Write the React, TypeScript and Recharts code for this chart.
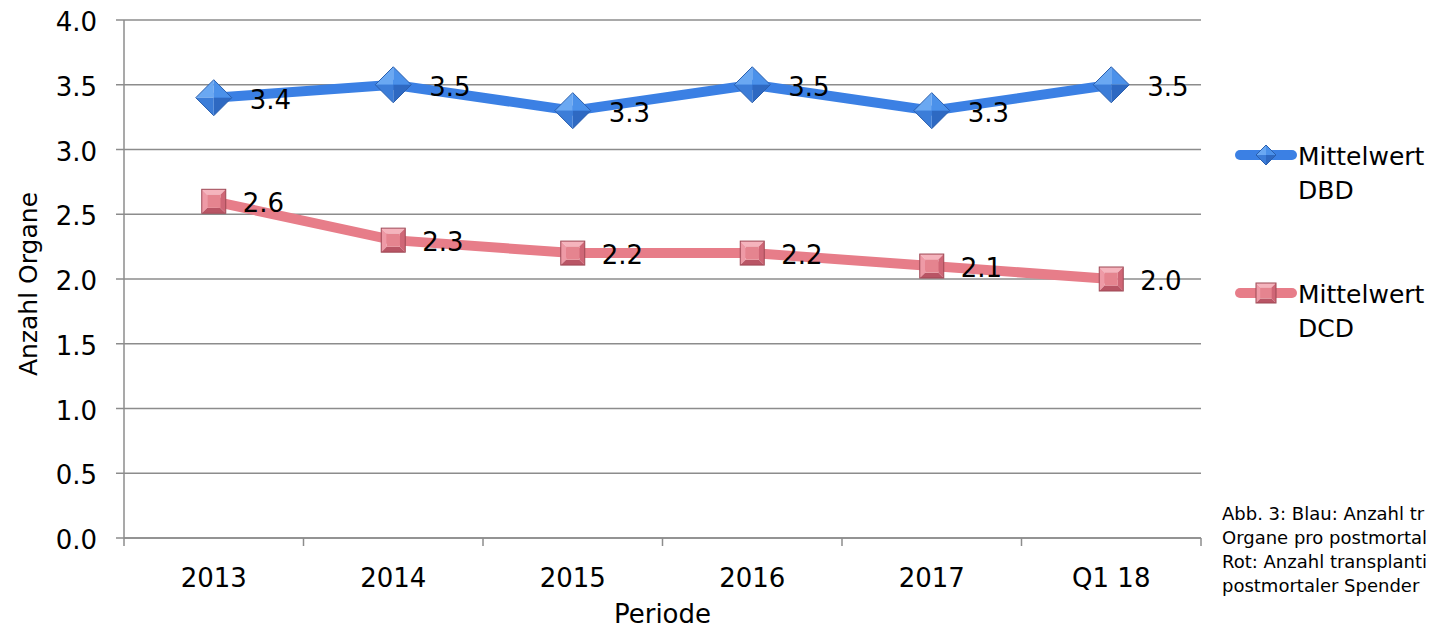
import React from "react";
import { LineChart, Line, XAxis, YAxis, CartesianGrid, LabelList } from "recharts";

const periods = ["2013", "2014", "2015", "2016", "2017", "Q1 18"];
const dbdMean = [3.4, 3.5, 3.3, 3.5, 3.3, 3.5];
const dcdMean = [2.6, 2.3, 2.2, 2.2, 2.1, 2.0];
const yTicks = [0, 0.5, 1, 1.5, 2, 2.5, 3, 3.5, 4];
// the caption is cut by the right edge of the picture, only the visible part is kept
const captionLines = [
  "Abb. 3: Blau: Anzahl tr",
  "Organe pro postmortal",
  "Rot: Anzahl transplanti",
  "postmortaler Spender",
];

const data = periods.map((p, i) => ({ period: p, dbd: dbdMean[i], dcd: dcdMean[i] }));

const FONT = "'DejaVu Sans', Verdana, sans-serif";
const W = 1433;
const H = 630;
const M = { top: 20, right: 232, left: 0, bottom: 0 };
const Y_W = 124;
const X_H = 92;
const BLUE = "#3b80e4";
const PINK = "#e77d89";
const GRID = "#8c8c8c";
const HALF_BAND = (W - M.right - M.left - Y_W) / periods.length / 2;

function Diamond({ cx, cy, r }: { cx: number; cy: number; r: number }) {
  const t = `${cx},${cy - r}`;
  const rt = `${cx + r},${cy}`;
  const b = `${cx},${cy + r}`;
  const l = `${cx - r},${cy}`;
  const c = `${cx},${cy}`;
  return (
    <g>
      <polygon points={`${l} ${t} ${c}`} fill="#6aa8f2" />
      <polygon points={`${t} ${rt} ${c}`} fill="#4b91ea" />
      <polygon points={`${rt} ${b} ${c}`} fill="#2e69c2" />
      <polygon points={`${b} ${l} ${c}`} fill="#3c7dd8" />
      <polygon points={`${t} ${rt} ${b} ${l}`} fill="none" stroke="#2a5fae" strokeWidth={1} />
    </g>
  );
}

function Square({ cx, cy, h }: { cx: number; cy: number; h: number }) {
  const i = h * 0.55;
  const o = (x: number, y: number) => `${cx + x},${cy + y}`;
  return (
    <g>
      <polygon points={`${o(-h, -h)} ${o(h, -h)} ${o(i, -i)} ${o(-i, -i)}`} fill="#f5b4bd" />
      <polygon points={`${o(-h, -h)} ${o(-i, -i)} ${o(-i, i)} ${o(-h, h)}`} fill="#ee9aa6" />
      <polygon points={`${o(h, -h)} ${o(h, h)} ${o(i, i)} ${o(i, -i)}`} fill="#cf6676" />
      <polygon points={`${o(-h, h)} ${o(-i, i)} ${o(i, i)} ${o(h, h)}`} fill="#b95565" />
      <polygon points={`${o(-i, -i)} ${o(i, -i)} ${o(i, i)} ${o(-i, i)}`} fill="#e5848f" />
      <rect x={cx - h} y={cy - h} width={2 * h} height={2 * h} fill="none" stroke="#9e4855" strokeWidth={1} />
    </g>
  );
}

const DiamondDot = (props: any) => <Diamond key={`d-${props.index}`} cx={props.cx} cy={props.cy} r={18} />;
const SquareDot = (props: any) => <Square key={`s-${props.index}`} cx={props.cx} cy={props.cy} h={12} />;

const valueLabel = (dx: number) => (props: any) => {
  const { x, y, value, index } = props;
  return (
    <text key={`l-${index}`} x={x + dx} y={y + 11} fontSize={26} fontFamily={FONT} fill="#000">
      {Number(value).toFixed(1)}
    </text>
  );
};

const XTick = (props: any) => {
  const { x, y, payload, index } = props;
  return (
    <g>
      <line x1={x - HALF_BAND} y1={y} x2={x - HALF_BAND} y2={y + 8} stroke={GRID} strokeWidth={1.5} />
      {index === periods.length - 1 && (
        <line x1={x + HALF_BAND} y1={y} x2={x + HALF_BAND} y2={y + 8} stroke={GRID} strokeWidth={1.5} />
      )}
      <text x={x} y={y + 49} textAnchor="middle" fontSize={26} fontFamily={FONT} fill="#000">
        {payload.value}
      </text>
    </g>
  );
};

const legendItems = [
  { name: "Mittelwert", sub: "DBD", color: BLUE, kind: "diamond" },
  { name: "Mittelwert", sub: "DCD", color: PINK, kind: "square" },
];

const LegendBox = () => (
  <div
    style={{
      position: "absolute",
      left: 1234,
      top: 140,
      fontFamily: FONT,
      fontSize: 25,
      lineHeight: "34px",
      color: "#000",
    }}
  >
    {legendItems.map((it, i) => (
      <div key={it.sub} style={{ display: "flex", alignItems: "flex-start", marginTop: i === 0 ? 0 : 70 }}>
        <svg width={64} height={24} style={{ marginTop: 3 }}>
          <line x1={6} y1={12} x2={58} y2={12} stroke={it.color} strokeWidth={10} strokeLinecap="round" />
          {it.kind === "diamond" ? <Diamond cx={32} cy={12} r={10} /> : <Square cx={32} cy={12} h={10} />}
        </svg>
        <div>
          <div>{it.name}</div>
          <div>{it.sub}</div>
        </div>
      </div>
    ))}
  </div>
);

export default function App() {
  return (
    <div style={{ position: "fixed", left: 0, top: 0, width: W, height: H, overflow: "hidden", background: "#fff" }}>
      <LineChart width={W} height={H} data={data} margin={M}>
        <CartesianGrid vertical={false} stroke={GRID} strokeWidth={1.5} />
        <XAxis
          dataKey="period"
          scale="band"
          height={X_H}
          stroke={GRID}
          strokeWidth={1.5}
          tickLine={false}
          tickSize={0}
          tickMargin={0}
          tick={<XTick />}
          interval={0}
          label={{
            content: (p: any) => {
              const vb = p.viewBox;
              return (
                <text x={vb.x + vb.width / 2} y={vb.y + 85} textAnchor="middle" fontSize={26} fontFamily={FONT} fill="#000">
                  Periode
                </text>
              );
            },
          }}
        />
        <YAxis
          domain={[0, 4]}
          ticks={yTicks}
          width={Y_W}
          stroke={GRID}
          strokeWidth={1.5}
          tickSize={8}
          tickMargin={19}
          tickFormatter={(v: number) => v.toFixed(1)}
          tick={{ fontSize: 26, fontFamily: FONT, fill: "#000", dy: 2 }}
          label={{
            content: (p: any) => {
              const vb = p.viewBox;
              const cx = vb.x + 28;
              const cy = vb.y + vb.height / 2 + 5;
              return (
                <text
                  x={cx}
                  y={cy}
                  transform={`rotate(-90 ${cx} ${cy})`}
                  textAnchor="middle"
                  dominantBaseline="central"
                  fontSize={25}
                  fontFamily={FONT}
                  fill="#000"
                >
                  Anzahl Organe
                </text>
              );
            },
          }}
        />
        <Line
          dataKey="dcd"
          name="Mittelwert DCD"
          stroke={PINK}
          strokeWidth={10}
          dot={SquareDot}
          activeDot={false}
          isAnimationActive={false}
        >
          <LabelList dataKey="dcd" content={valueLabel(29)} />
        </Line>
        <Line
          dataKey="dbd"
          name="Mittelwert DBD"
          stroke={BLUE}
          strokeWidth={10}
          dot={DiamondDot}
          activeDot={false}
          isAnimationActive={false}
        >
          <LabelList dataKey="dbd" content={valueLabel(36)} />
        </Line>
      </LineChart>
      <LegendBox />
      <div
        style={{
          position: "absolute",
          left: 1222,
          top: 502,
          fontFamily: FONT,
          fontSize: 18,
          lineHeight: "24px",
          whiteSpace: "nowrap",
          color: "#000",
        }}
      >
        {captionLines.map((l) => (
          <div key={l}>{l}</div>
        ))}
      </div>
    </div>
  );
}
